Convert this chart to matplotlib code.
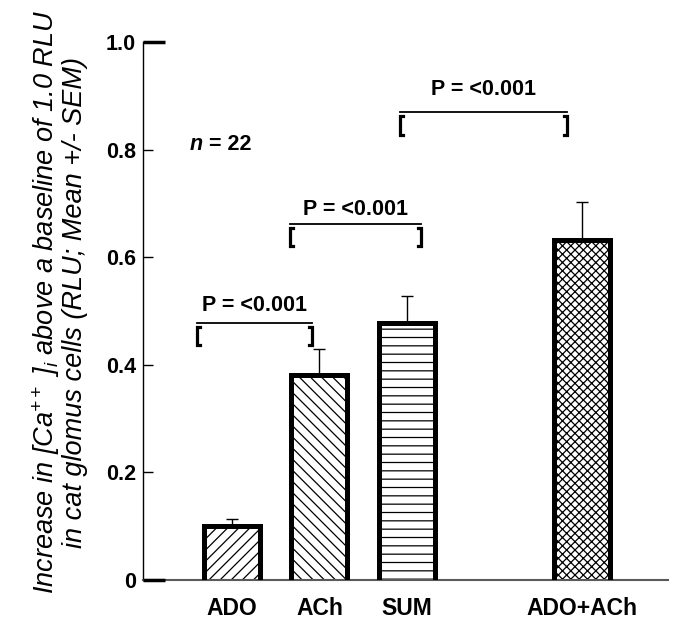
import matplotlib
matplotlib.use("Agg")
import matplotlib.pyplot as plt

# Data
labels = ["ADO", "ACh", "SUM", "ADO+ACh"]
positions = [0, 1, 2, 4]
means = [0.101, 0.381, 0.478, 0.632]
sems = [0.012, 0.048, 0.050, 0.071]
hatches = ["///", "\\\\\\", "--", "xxxx"]

# significance brackets (left x, right x, line height, text height)
br_left = [-0.40, 0.66, 1.92]
br_right = [0.91, 2.16, 3.83]
br_y = [0.478, 0.662, 0.870]
br_text_y = [0.511, 0.688, 0.911]
br_text = ["P = <0.001", "P = <0.001", "P = <0.001"]

plt.rcParams["font.family"] = ["Liberation Sans", "DejaVu Sans"]
plt.rcParams["mathtext.fontset"] = "custom"
plt.rcParams["mathtext.rm"] = "Liberation Sans:italic"
plt.rcParams["mathtext.it"] = "Liberation Sans:italic"
plt.rcParams["hatch.linewidth"] = 0.9

fig = plt.figure(figsize=(6.8, 6.23), dpi=100)
ax = fig.add_axes([143 / 680, 1 - 580 / 623, 525 / 680, 538 / 623])

width = 0.64
ax.bar(positions, means, width=width, color="white", edgecolor="black",
       linewidth=0, hatch=hatches, zorder=2)
# thick outline on top and sides (no bottom edge)
for x, h in zip(positions, means):
    ax.plot([x - width / 2, x - width / 2, x + width / 2, x + width / 2],
            [0, h, h, 0], color="black", lw=3.6, solid_joinstyle="miter",
            solid_capstyle="butt", zorder=3)

ax.errorbar(positions, means, yerr=[[0] * 4, sems], fmt="none", ecolor="black",
            elinewidth=1, capsize=4, capthick=1, zorder=1)

ax.set_xlim(-1.017, 4.983)
ax.set_ylim(0, 1.0)

ax.spines["top"].set_visible(False)
ax.spines["right"].set_visible(False)
ax.spines["left"].set_linewidth(1.0)
ax.spines["bottom"].set_color("#5a5a5a")
ax.spines["bottom"].set_linewidth(1.5)

yt = [0, 0.2, 0.4, 0.6, 0.8, 1.0]
ax.set_yticks(yt)
ax.set_yticklabels(["0", "0.2", "0.4", "0.6", "0.8", "1.0"], fontsize=15.5,
                   fontweight="bold")
ax.tick_params(axis="y", direction="in", length=7, width=1, pad=5)
# long heavy ticks at 0 and 1.0
for v in [0, 1.0]:
    ax.plot([0, 0.042], [v, v], transform=ax.get_yaxis_transform(),
            color="black", lw=2.5, solid_capstyle="butt", clip_on=False, zorder=4)

ax.set_xticks(positions)
ax.set_xticklabels(labels, fontsize=16.5, fontweight="bold")
ax.tick_params(axis="x", length=0, pad=12)

# brackets
for xl, xr, y, ty, t in zip(br_left, br_right, br_y, br_text_y, br_text):
    ax.plot([xl, xr], [y, y], color="black", lw=1.3)
    top, bot = y - 0.007, y - 0.042
    ax.plot([xl + 0.035, xl, xl, xl + 0.035], [top, top, bot, bot],
            color="black", lw=2.3, solid_joinstyle="miter")
    ax.plot([xr - 0.035, xr, xr, xr - 0.035], [top, top, bot, bot],
            color="black", lw=2.3, solid_joinstyle="miter")
    ax.text((xl + xr) / 2, ty, t, ha="center", va="center", fontsize=15.5,
            fontweight="bold")

ax.text(-0.33, 0.81, "n", ha="right", va="center", fontsize=15.5,
        fontweight="bold", style="italic")
ax.text(-0.33, 0.81, " = 22", ha="left", va="center", fontsize=15.5,
        fontweight="bold")

fig.text(59 / 680, 0.515,
         "Increase in [Ca$^{++}$ ]$_i$ above a baseline of 1.0 RLU\n"
         "in cat glomus cells (RLU; Mean +/- SEM)",
         rotation=90, ha="center", va="center", multialignment="center",
         fontsize=19.5, style="italic", linespacing=1.02)

fig.savefig("out.png", dpi=100)
